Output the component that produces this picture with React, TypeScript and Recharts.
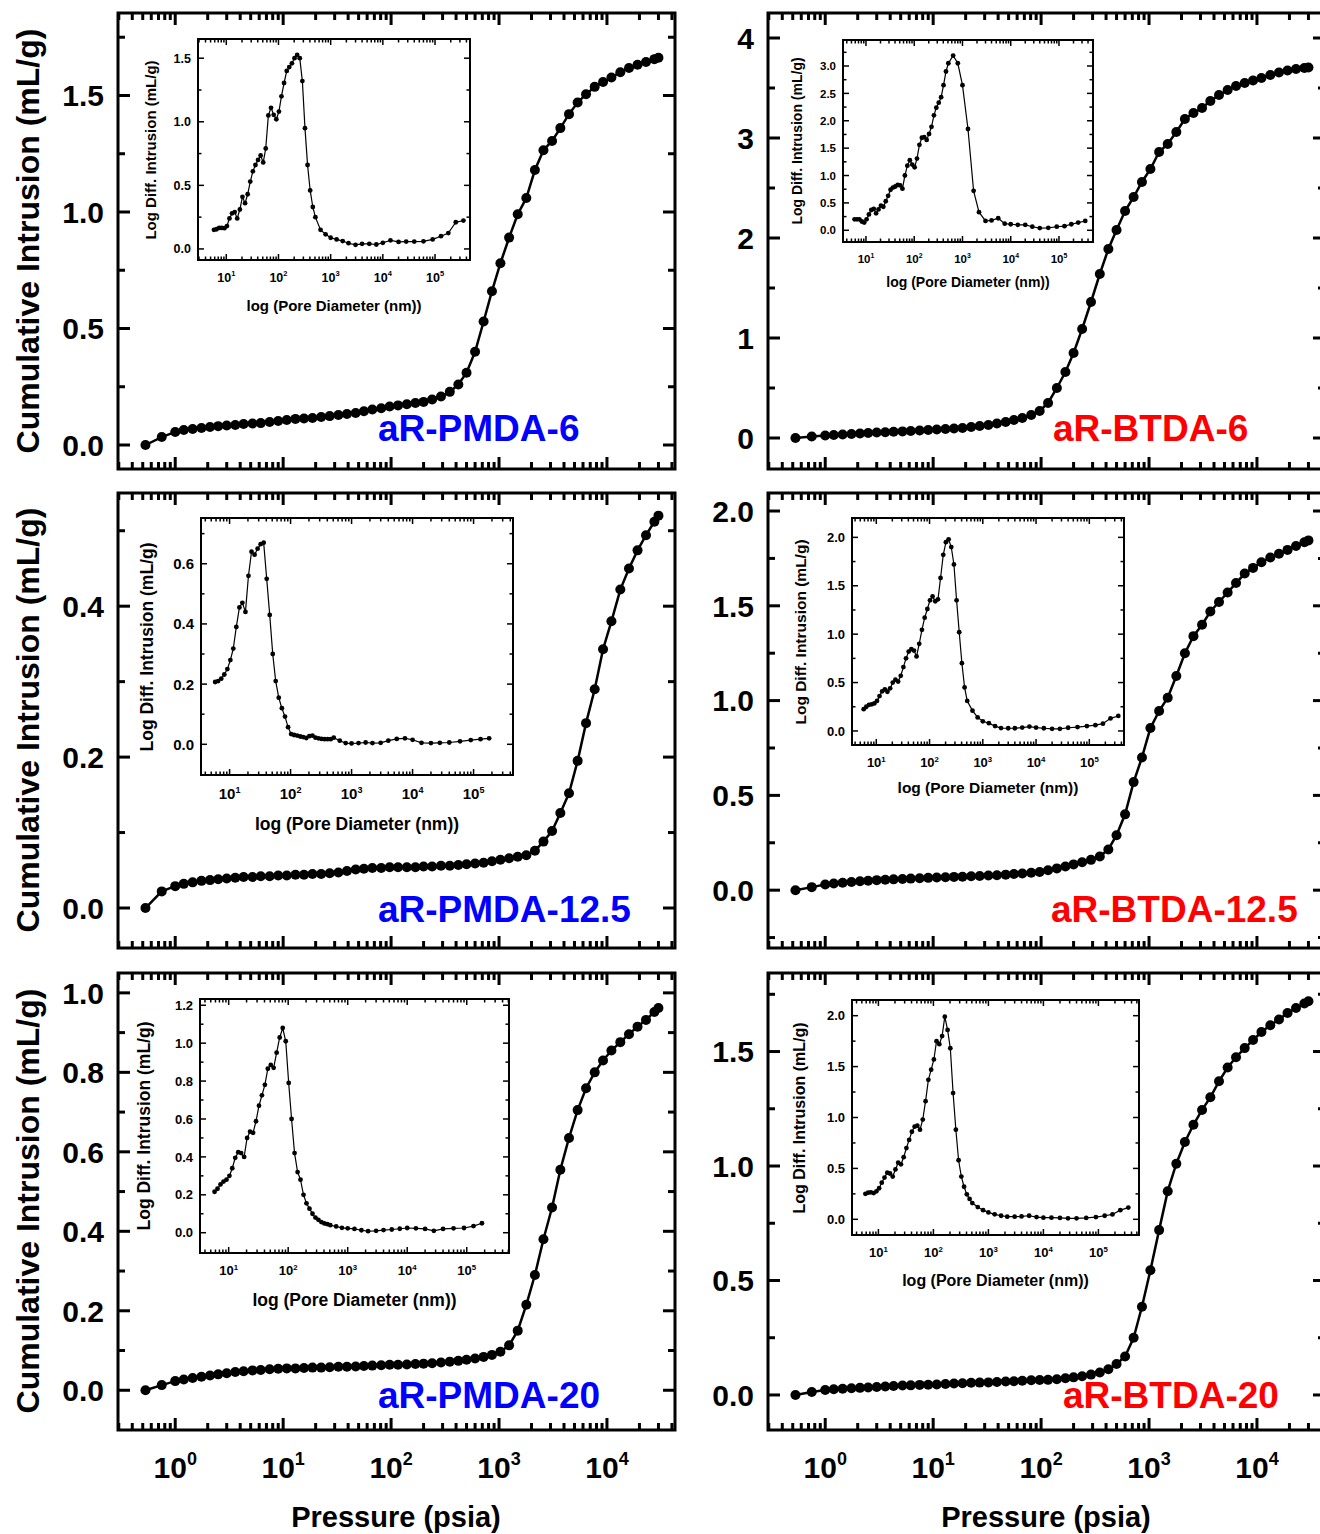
import React from 'react';
import { LineChart, Line, XAxis, YAxis, ReferenceArea } from 'recharts';

const FONT = 'Arial, "Liberation Sans", Helvetica, sans-serif';
const BLUE = '#0000ff';
const RED = '#ff0000';

// pressure steps of the intrusion run (psia)
const pressure = [0.53, 0.75, 1.0, 1.2, 1.45, 1.75, 2.1, 2.5, 3.0, 3.6, 4.3, 5.2, 6.2, 7.5, 9.0, 10.8, 13, 15.6, 18.7, 22.5, 27, 32.5, 39, 47, 56, 67, 81, 97, 116, 140, 168, 200, 240, 290, 350, 420, 500, 600, 720, 860, 1030, 1240, 1490, 1790, 2150, 2580, 3100, 3700, 4450, 5350, 6400, 7700, 9200, 11000, 13300, 16000, 19200, 23000, 27500, 30000];

// cumulative intrusion (mL/g)
const pmda6 = [0.0, 0.034, 0.056, 0.064, 0.069, 0.073, 0.077, 0.081, 0.084, 0.086, 0.09, 0.092, 0.094, 0.099, 0.103, 0.107, 0.112, 0.114, 0.116, 0.12, 0.124, 0.129, 0.133, 0.137, 0.145, 0.152, 0.158, 0.165, 0.17, 0.175, 0.18, 0.185, 0.195, 0.208, 0.228, 0.26, 0.31, 0.40, 0.53, 0.66, 0.78, 0.89, 0.99, 1.06, 1.18, 1.265, 1.305, 1.36, 1.42, 1.47, 1.505, 1.537, 1.558, 1.577, 1.60, 1.618, 1.632, 1.644, 1.656, 1.662];
const btda6 = [0.0, 0.015, 0.025, 0.03, 0.035, 0.04, 0.045, 0.05, 0.055, 0.058, 0.062, 0.066, 0.07, 0.075, 0.08, 0.085, 0.09, 0.095, 0.1, 0.11, 0.12, 0.13, 0.145, 0.16, 0.18, 0.2, 0.23, 0.27, 0.35, 0.5, 0.66, 0.85, 1.09, 1.36, 1.64, 1.89, 2.08, 2.27, 2.41, 2.56, 2.69, 2.86, 2.94, 3.06, 3.19, 3.25, 3.3, 3.37, 3.43, 3.48, 3.52, 3.55, 3.575, 3.6, 3.63, 3.655, 3.675, 3.69, 3.7, 3.705];
const pmda125 = [0.0, 0.022, 0.029, 0.032, 0.034, 0.036, 0.037, 0.038, 0.039, 0.04, 0.041, 0.041, 0.042, 0.042, 0.043, 0.043, 0.044, 0.044, 0.045, 0.045, 0.046, 0.047, 0.049, 0.051, 0.052, 0.053, 0.053, 0.054, 0.054, 0.054, 0.054, 0.055, 0.055, 0.056, 0.056, 0.057, 0.058, 0.059, 0.06, 0.062, 0.064, 0.066, 0.068, 0.07, 0.076, 0.088, 0.102, 0.126, 0.152, 0.195, 0.245, 0.29, 0.343, 0.38, 0.422, 0.45, 0.474, 0.494, 0.512, 0.52];
const btda125 = [0.0, 0.016, 0.03, 0.035, 0.039, 0.043, 0.047, 0.05, 0.053, 0.055, 0.057, 0.059, 0.061, 0.063, 0.065, 0.067, 0.068, 0.07, 0.071, 0.073, 0.075, 0.077, 0.079, 0.082, 0.085, 0.088, 0.092, 0.096, 0.105, 0.115, 0.125, 0.136, 0.147, 0.16, 0.178, 0.215, 0.29, 0.4, 0.57, 0.7, 0.855, 0.945, 1.015, 1.13, 1.25, 1.34, 1.4, 1.47, 1.52, 1.57, 1.62, 1.67, 1.7, 1.73, 1.755, 1.775, 1.795, 1.815, 1.835, 1.845];
const pmda20 = [0.0, 0.013, 0.023, 0.027, 0.031, 0.034, 0.037, 0.04, 0.043, 0.046, 0.048, 0.05, 0.051, 0.053, 0.054, 0.055, 0.055, 0.056, 0.057, 0.057, 0.058, 0.059, 0.059, 0.06, 0.061, 0.062, 0.063, 0.064, 0.064, 0.065, 0.066, 0.067, 0.068, 0.07, 0.072, 0.074, 0.077, 0.08, 0.084, 0.089, 0.097, 0.113, 0.15, 0.215, 0.29, 0.38, 0.46, 0.555, 0.635, 0.705, 0.76, 0.8, 0.83, 0.855, 0.876, 0.896, 0.915, 0.932, 0.952, 0.962];
const btda20 = [0.0, 0.013, 0.022, 0.025, 0.027, 0.029, 0.031, 0.033, 0.035, 0.037, 0.039, 0.041, 0.042, 0.044, 0.045, 0.046, 0.048, 0.05, 0.051, 0.053, 0.054, 0.055, 0.057, 0.059, 0.06, 0.062, 0.064, 0.065, 0.066, 0.069, 0.073, 0.077, 0.082, 0.089, 0.098, 0.112, 0.135, 0.168, 0.25, 0.385, 0.545, 0.72, 0.89, 1.01, 1.105, 1.18, 1.245, 1.3, 1.37, 1.43, 1.475, 1.515, 1.55, 1.585, 1.615, 1.64, 1.668, 1.69, 1.71, 1.72];

// pore diameter (nm) for the insets
const diameter = [5.8, 6.5, 7.3, 8.2, 9.2, 10.3, 11.5, 12.9, 14.5, 16.2, 18.2, 20.4, 22.9, 25.7, 28.8, 32.3, 36.2, 40.6, 45.5, 51, 57, 64, 72, 81, 91, 102, 114, 128, 144, 161, 181, 203, 228, 256, 287, 322, 361, 405, 455, 510, 640, 800, 1000, 1300, 1700, 2200, 3000, 4000, 5500, 7500, 10000, 14000, 20000, 28000, 40000, 60000, 90000, 130000, 180000, 250000, 350000];

// log differential intrusion (mL/g)
const pmda6Diff = [0.15, 0.155, 0.165, 0.165, 0.163, 0.18, 0.24, 0.28, 0.29, 0.24, 0.31, 0.41, 0.36, 0.43, 0.53, 0.61, 0.66, 0.7, 0.735, 0.68, 0.79, 1.05, 1.11, 1.055, 1.02, 1.08, 1.2, 1.305, 1.4, 1.43, 1.46, 1.5, 1.525, 1.5, 1.32, 0.95, 0.66, 0.46, 0.33, 0.25, 0.15, 0.115, 0.088, 0.075, 0.062, 0.045, 0.032, 0.04, 0.04, 0.035, 0.048, 0.068, 0.055, 0.058, 0.058, 0.06, 0.075, 0.1, 0.125, 0.21, 0.223];
const btda6Diff = [0.2, 0.2, 0.2, 0.16, 0.14, 0.2, 0.29, 0.37, 0.39, 0.31, 0.38, 0.45, 0.43, 0.53, 0.63, 0.74, 0.78, 0.8, 0.83, 0.82, 0.76, 1.0, 1.18, 1.28, 1.2, 1.15, 1.31, 1.56, 1.69, 1.7, 1.65, 1.76, 1.89, 2.1, 2.24, 2.33, 2.43, 2.65, 2.9, 3.05, 3.19, 3.05, 2.65, 1.85, 0.72, 0.33, 0.17, 0.18, 0.22, 0.12, 0.11, 0.1, 0.1, 0.065, 0.04, 0.045, 0.065, 0.075, 0.11, 0.14, 0.17];
const pmda125Diff = [0.207, 0.21, 0.218, 0.232, 0.25, 0.28, 0.318, 0.39, 0.455, 0.47, 0.44, 0.56, 0.64, 0.63, 0.65, 0.665, 0.67, 0.55, 0.43, 0.3, 0.21, 0.155, 0.12, 0.092, 0.057, 0.034, 0.031, 0.029, 0.026, 0.024, 0.021, 0.027, 0.029, 0.022, 0.02, 0.018, 0.017, 0.017, 0.017, 0.022, 0.012, 0.004, 0.003, 0.004, 0.006, 0.004, 0.005, 0.012, 0.018, 0.02, 0.015, 0.005, 0.004, 0.005, 0.006, 0.01, 0.014, 0.017, 0.02, null, null];
const btda125Diff = [0.225, 0.25, 0.27, 0.275, 0.285, 0.31, 0.36, 0.41, 0.43, 0.405, 0.44, 0.5, 0.53, 0.51, 0.57, 0.66, 0.75, 0.82, 0.845, 0.83, 0.77, 0.9, 1.045, 1.17, 1.26, 1.35, 1.39, 1.34, 1.36, 1.58, 1.82, 1.95, 1.98, 1.9, 1.72, 1.35, 1.02, 0.7, 0.45, 0.31, 0.21, 0.14, 0.1, 0.08, 0.05, 0.03, 0.028, 0.028, 0.035, 0.045, 0.035, 0.028, 0.022, 0.022, 0.033, 0.04, 0.05, 0.06, 0.075, 0.13, 0.155];
const pmda20Diff = [0.216, 0.232, 0.255, 0.27, 0.28, 0.3, 0.34, 0.395, 0.425, 0.42, 0.4, 0.5, 0.533, 0.527, 0.588, 0.67, 0.725, 0.78, 0.865, 0.885, 0.87, 0.95, 1.03, 1.08, 1.01, 0.79, 0.6, 0.42, 0.32, 0.28, 0.2, 0.155, 0.127, 0.1, 0.08, 0.068, 0.056, 0.049, 0.045, 0.04, 0.033, 0.026, 0.023, 0.02, 0.013, 0.008, 0.01, 0.014, 0.017, 0.021, 0.025, 0.023, 0.02, 0.01, 0.02, 0.023, 0.025, 0.035, 0.05, null, null];
const btda20Diff = [0.25, 0.262, 0.265, 0.258, 0.275, 0.305, 0.36, 0.41, 0.458, 0.45, 0.42, 0.49, 0.556, 0.54, 0.61, 0.7, 0.78, 0.86, 0.91, 0.92, 0.88, 0.98, 1.16, 1.37, 1.47, 1.57, 1.75, 1.72, 1.8, 1.99, 1.86, 1.68, 1.24, 0.88, 0.58, 0.42, 0.32, 0.245, 0.2, 0.16, 0.12, 0.09, 0.068, 0.049, 0.035, 0.026, 0.026, 0.028, 0.035, 0.022, 0.016, 0.016, 0.014, 0.01, 0.01, 0.014, 0.022, 0.035, 0.048, 0.09, 0.115];

// log axis ticks (decades labelled, the rest minor)
const pressureTicks = [0.3, 0.4, 0.5, 0.6, 0.7, 0.8, 0.9, 1, 2, 3, 4, 5, 6, 7, 8, 9, 10, 20, 30, 40, 50, 60, 70, 80, 90, 100, 200, 300, 400, 500, 600, 700, 800, 900, 1000, 2000, 3000, 4000, 5000, 6000, 7000, 8000, 9000, 10000, 20000, 30000, 40000];
const diameterTicks = [3, 4, 5, 6, 7, 8, 9, 10, 20, 30, 40, 50, 60, 70, 80, 90, 100, 200, 300, 400, 500, 600, 700, 800, 900, 1000, 2000, 3000, 4000, 5000, 6000, 7000, 8000, 9000, 10000, 20000, 30000, 40000, 50000, 60000, 70000, 80000, 90000, 100000, 200000, 300000, 400000, 500000];

const PRESSURE_DOMAIN = [0.295, 42700];

const isDecade = (v: number) => {
  const l = Math.log10(v);
  return Math.abs(l - Math.round(l)) < 1e-6;
};

function makeXTick(s: any, showLabels: boolean) {
  return function XTick(props: any) {
    const { x, y, payload } = props;
    const v = payload.value;
    const dec = isDecade(v);
    const len = dec ? s.major : s.minor;
    const top = y - s.h;
    return (
      <g>
        <line x1={x} x2={x} y1={y} y2={y - len} stroke="#000" strokeWidth={s.stroke} />
        <line x1={x} x2={x} y1={top} y2={top + len} stroke="#000" strokeWidth={s.stroke} />
        {dec && showLabels ? (
          <text x={x} y={y + s.xGap} textAnchor="middle" fontFamily={FONT} fontWeight="bold" fontSize={s.font} fill="#000">
            10
            <tspan dy={-s.font * 0.42} fontSize={s.font * 0.6}>{Math.round(Math.log10(v))}</tspan>
          </text>
        ) : null}
      </g>
    );
  };
}

function makeYTick(s: any, majors: number[], digits: number) {
  return function YTick(props: any) {
    const { x, y, payload } = props;
    const v = payload.value;
    const major = majors.includes(v);
    const len = major ? s.major : s.minor;
    const right = x + s.w;
    return (
      <g>
        <line x1={x} x2={x + len} y1={y} y2={y} stroke="#000" strokeWidth={s.stroke} />
        <line x1={right} x2={right - len} y1={y} y2={y} stroke="#000" strokeWidth={s.stroke} />
        {major ? (
          <text x={x - s.yGap} y={y} dy="0.36em" textAnchor="end" fontFamily={FONT} fontWeight="bold" fontSize={s.font} fill="#000">
            {v.toFixed(digits)}
          </text>
        ) : null}
      </g>
    );
  };
}

const MAIN_W = 557;
// the axes take 1px each (an axis of zero size is not drawn), margins make up the rest
const M = { top: 10, right: 10, bottom: 59, left: 79 };

const mains = [
  { left: 118, top: 13, h: 456, y: [-0.103, 1.854], majors: [0, 0.5, 1, 1.5], minors: [0.25, 0.75, 1.25, 1.75], digits: 1, values: pmda6, xLabels: false },
  { left: 768, top: 13, h: 456, y: [-0.31, 4.25], majors: [0, 1, 2, 3, 4], minors: [0.5, 1.5, 2.5, 3.5], digits: 0, values: btda6, xLabels: false },
  { left: 118, top: 493, h: 455, y: [-0.053, 0.55], majors: [0, 0.2, 0.4], minors: [0.1, 0.3, 0.5], digits: 1, values: pmda125, xLabels: false },
  { left: 768, top: 493, h: 455, y: [-0.305, 2.095], majors: [0, 0.5, 1, 1.5, 2], minors: [-0.25, 0.25, 0.75, 1.25, 1.75], digits: 1, values: btda125, xLabels: false },
  { left: 118, top: 973, h: 457, y: [-0.1, 1.05], majors: [0, 0.2, 0.4, 0.6, 0.8, 1], minors: [0.1, 0.3, 0.5, 0.7, 0.9], digits: 1, values: pmda20, xLabels: true },
  { left: 768, top: 973, h: 457, y: [-0.153, 1.843], majors: [0, 0.5, 1, 1.5], minors: [0.25, 0.75, 1.25, 1.75], digits: 1, values: btda20, xLabels: true },
];

const insets = [
  { left: 198, top: 39, w: 272, h: 221, x: [2.87, 468000], y: [-0.087, 1.651], majors: [0, 0.5, 1, 1.5], minors: [0.25, 0.75, 1.25], values: pmda6Diff, font: 12.5, title: 15, xTitleY: 305, yTitleX: 150 },
  { left: 843, top: 40, w: 250, h: 202, x: [3.34, 507000], y: [-0.214, 3.475], majors: [0, 0.5, 1, 1.5, 2, 2.5, 3], minors: [0.25, 0.75, 1.25, 1.75, 2.25, 2.75, 3.25], values: btda6Diff, font: 11.5, title: 14, xTitleY: 282, yTitleX: 797 },
  { left: 201, top: 518, w: 312, h: 257, x: [3.4, 443000], y: [-0.102, 0.752], majors: [0, 0.2, 0.4, 0.6], minors: [0.1, 0.3, 0.5, 0.7], values: pmda125Diff, font: 15, title: 17.5, xTitleY: 825, yTitleX: 148 },
  { left: 852, top: 518, w: 272, h: 227, x: [3.5, 448000], y: [-0.145, 2.2], majors: [0, 0.5, 1, 1.5, 2], minors: [0.25, 0.75, 1.25, 1.75], values: btda125Diff, font: 13, title: 15.5, xTitleY: 788, yTitleX: 801 },
  { left: 200, top: 999, w: 309, h: 254, x: [3.3, 513000], y: [-0.107, 1.233], majors: [0, 0.2, 0.4, 0.6, 0.8, 1, 1.2], minors: [0.1, 0.3, 0.5, 0.7, 0.9, 1.1], values: pmda20Diff, font: 13, title: 17.5, xTitleY: 1301, yTitleX: 145 },
  { left: 852, top: 1000, w: 287, h: 235, x: [3.31, 547000], y: [-0.154, 2.154], majors: [0, 0.5, 1, 1.5, 2], minors: [0.25, 0.75, 1.25, 1.75], values: btda20Diff, font: 13, title: 16, xTitleY: 1281, yTitleX: 800 },
];

const sampleLabels = [
  { text: 'aR-PMDA-6', x: 378, y: 428, color: BLUE },
  { text: 'aR-BTDA-6', x: 1053, y: 428, color: RED },
  { text: 'aR-PMDA-12.5', x: 378, y: 909, color: BLUE },
  { text: 'aR-BTDA-12.5', x: 1051, y: 909, color: RED },
  { text: 'aR-PMDA-20', x: 378, y: 1395, color: BLUE },
  { text: 'aR-BTDA-20', x: 1063, y: 1395, color: RED },
];

function MainPanel({ p }: { p: any }) {
  const data = pressure.map((x, i) => ({ p: x, v: p.values[i] }));
  const s = { w: MAIN_W, h: p.h, major: 12, minor: 7, stroke: 3, font: 30, xGap: 48, yGap: 14 };
  return (
    <div style={{ position: 'absolute', left: p.left - M.left - 1, top: p.top - M.top }}>
      <LineChart width={MAIN_W + M.left + M.right + 1} height={p.h + M.top + M.bottom + 1} data={data} margin={M}>
        <XAxis dataKey="p" type="number" scale="log" domain={PRESSURE_DOMAIN} allowDataOverflow ticks={pressureTicks} interval={0}
          tickSize={0} tickMargin={0} height={1} axisLine={false} tickLine={false} tick={makeXTick(s, p.xLabels)} />
        <YAxis type="number" domain={p.y} allowDataOverflow ticks={[...p.majors, ...p.minors]} interval={0}
          tickSize={0} tickMargin={0} width={1} axisLine={false} tickLine={false} tick={makeYTick(s, p.majors, p.digits)} />
        <ReferenceArea x1={PRESSURE_DOMAIN[0]} x2={PRESSURE_DOMAIN[1]} y1={p.y[0]} y2={p.y[1]} fill="none" stroke="#000" strokeWidth={3} ifOverflow="visible" />
        <Line dataKey="v" stroke="#000" strokeWidth={2.5} dot={{ r: 5, fill: '#000', stroke: '#000', strokeWidth: 0 }} isAnimationActive={false} />
      </LineChart>
    </div>
  );
}

const IM = { top: 8, right: 8, bottom: 39, left: 49 };

function InsetPanel({ p }: { p: any }) {
  const data = diameter.map((d, i) => ({ d, v: p.values[i] }));
  const ticks = diameterTicks.filter((t) => t >= p.x[0] && t <= p.x[1]);
  const s = { w: p.w, h: p.h, major: 6, minor: 3.5, stroke: 1.5, font: p.font, xGap: 9 + p.font, yGap: 7 };
  return (
    <div style={{ position: 'absolute', left: p.left - IM.left - 1, top: p.top - IM.top }}>
      <LineChart width={p.w + IM.left + IM.right + 1} height={p.h + IM.top + IM.bottom + 1} data={data} margin={IM}>
        <XAxis dataKey="d" type="number" scale="log" domain={p.x} allowDataOverflow ticks={ticks} interval={0}
          tickSize={0} tickMargin={0} height={1} axisLine={false} tickLine={false} tick={makeXTick(s, true)} />
        <YAxis type="number" domain={p.y} allowDataOverflow ticks={[...p.majors, ...p.minors]} interval={0}
          tickSize={0} tickMargin={0} width={1} axisLine={false} tickLine={false} tick={makeYTick(s, p.majors, 1)} />
        <ReferenceArea x1={p.x[0]} x2={p.x[1]} y1={p.y[0]} y2={p.y[1]} fill="none" stroke="#000" strokeWidth={2} ifOverflow="visible" />
        <Line dataKey="v" stroke="#000" strokeWidth={1.2} dot={{ r: 2.4, fill: '#000', stroke: '#000', strokeWidth: 0 }} isAnimationActive={false} />
      </LineChart>
    </div>
  );
}

function Txt({ x, y, size, color = '#000', rotate = false, start = false, children }: any) {
  return (
    <div style={{
      position: 'absolute', left: x, top: y, whiteSpace: 'nowrap', lineHeight: 1,
      fontFamily: FONT, fontWeight: 'bold', fontSize: size, color,
      transform: `translate(${start ? '0' : '-50%'}, -50%)${rotate ? ' rotate(-90deg)' : ''}`,
    }}>
      {children}
    </div>
  );
}

export default function App() {
  return (
    <div style={{ position: 'absolute', left: 0, top: 0, width: 1320, height: 1534, overflow: 'hidden', background: '#fff' }}>
      {mains.map((p, i) => <MainPanel key={i} p={p} />)}
      {insets.map((p, i) => <InsetPanel key={i} p={p} />)}
      {insets.map((p, i) => (
        <React.Fragment key={i}>
          <Txt x={p.left + p.w / 2} y={p.xTitleY} size={p.title}>log (Pore Diameter (nm))</Txt>
          <Txt x={p.yTitleX} y={p.top + p.h / 2} size={p.title} rotate>Log Diff. Intrusion (mL/g)</Txt>
        </React.Fragment>
      ))}
      {[241, 720, 1201].map((cy) => (
        <Txt key={cy} x={28} y={cy} size={32} rotate>Cumulative Intrusion (mL/g)</Txt>
      ))}
      <Txt x={396} y={1517} size={29}>Pressure (psia)</Txt>
      <Txt x={1046} y={1517} size={29}>Pressure (psia)</Txt>
      {sampleLabels.map((l) => (
        <Txt key={l.text} x={l.x} y={l.y} size={37} color={l.color} start>{l.text}</Txt>
      ))}
    </div>
  );
}
